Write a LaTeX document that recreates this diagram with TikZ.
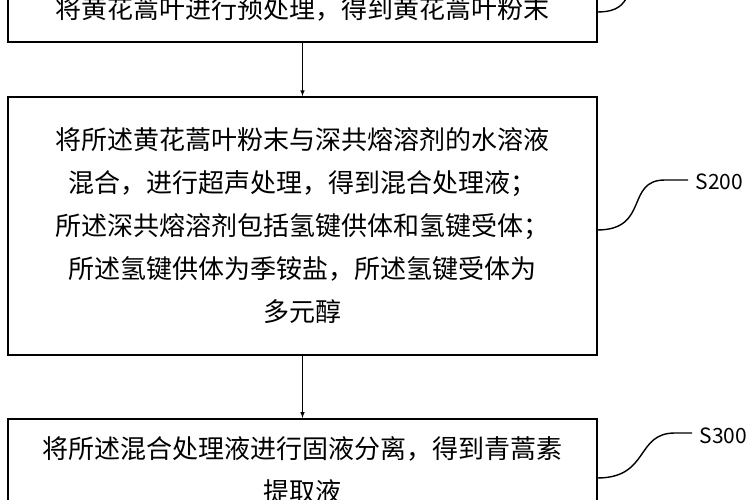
\documentclass[tikz,border=0pt]{standalone}
\usepackage{fontspec}
\setmainfont{Noto Sans CJK SC}
\begin{document}
\begin{tikzpicture}
    [
        x=1pt, y=-1pt,
        stepbox/.style={
                draw=black,
                line width=1.6pt,
                minimum width=589pt,
                align=center,
                inner sep=0pt,
                font=\fontsize{26}{43}\selectfont,
            },
        leader/.style={line width=1.4pt},
        tag/.style={font=\fontsize{21}{24}\selectfont, anchor=west},
    ]
    \useasboundingbox (0,0) rectangle (750,500);

    % steps
    \node [stepbox, minimum height=84pt] (s1) at (302.5,0) {\\[-4pt]将黄花蒿叶进行预处理，得到黄花蒿叶粉末};
    \node [stepbox, minimum height=258pt] (s2) at (302.5,226)
        {将所述黄花蒿叶粉末与深共熔溶剂的水溶液\\
         混合，进行超声处理，得到混合处理液；\\
         所述深共熔溶剂包括氢键供体和氢键受体；\\
         所述氢键供体为季铵盐，所述氢键受体为\\
         多元醇};
    \node [stepbox, minimum height=166pt, anchor=north] (s3) at (302.5,418)
        {\\[-14pt]将所述混合处理液进行固液分离，得到青蒿素\\
         提取液\\[30pt]};

    % arrows
    \draw [-latex, line width=1pt] (s1.south) -- (s2.north);
    \draw [-latex, line width=1pt] (s2.south) -- (s3.north);

    % labels
    \coordinate (c1) at (660,-20);
    \coordinate (c2) at (665,180);
    \coordinate (c3) at (675,433);
    \draw [leader] (597,12) .. controls (640,12) and (615,-20) .. (c1);
    \draw [leader] (597,230) .. controls (650,230) and (625,180) .. (c2) -- (688,180);
    \draw [leader] (597,478) .. controls (650,478) and (635,433) .. (c3) -- (692,433);
    \node [tag] (l2) at (692,182) {S200};
    \node [tag] (l3) at (696,436) {S300};
\end{tikzpicture}
\end{document}
